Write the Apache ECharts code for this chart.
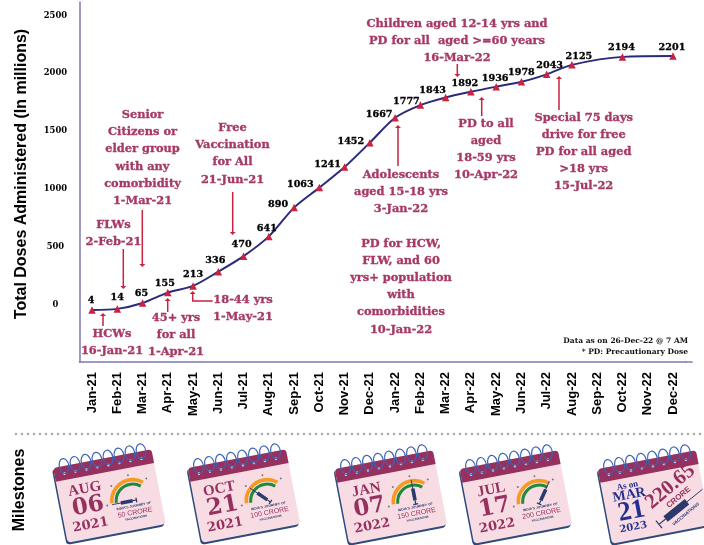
<!DOCTYPE html>
<html>
<head>
<meta charset="utf-8">
<style>html,body{margin:0;padding:0;background:#fff}#c{width:704px;height:545px}</style>
<script src="https://cdn.jsdelivr.net/npm/echarts@6/dist/echarts.min.js"></script>
</head>
<body>
<div id="c"></div>
<script>
const categories = ['Jan-21','Feb-21','Mar-21','Apr-21','May-21','Jun-21','Jul-21','Aug-21','Sep-21','Oct-21','Nov-21','Dec-21','Jan-22','Feb-22','Mar-22','Apr-22','May-22','Jun-22','Jul-22','Aug-22','Sep-22','Oct-22','Nov-22','Dec-22'];
const doses = [4,14,65,155,213,336,470,641,890,1063,1241,1452,1667,1777,1843,1892,1936,1978,2043,2125,2194,2201];
const labelledMonths = ['Jan-21','Feb-21','Mar-21','Apr-21','May-21','Jun-21','Jul-21','Aug-21','Sep-21','Oct-21','Nov-21','Dec-21','Jan-22','Feb-22','Mar-22','Apr-22','May-22','Jun-22','Jul-22','Aug-22','Oct-22','Dec-22'];
const yTicks = [0,500,1000,1500,2000,2500];
const yTitle = 'Total Doses Administered (In millions)';
const footnotes = 'Data as on 26-Dec-22 @ 7 AM\n* PD: Precautionary Dose';
const annotations = [
  ['HCWs\n16-Jan-21',112,325],
  ['FLWs\n2-Feb-21',113.5,216.5],
  ['Senior\nCitizens or\nelder group\nwith any\ncomorbidity\n1-Mar-21',142.5,106.5],
  ['Free\nVaccination\nfor All\n21-Jun-21',232.5,119.5],
  ['45+ yrs\nfor all\n1-Apr-21',176,309],
  ['18-44 yrs\n1-May-21',243,291],
  ['Children aged 12-14 yrs and\nPD for all  aged >=60 years\n16-Mar-22',457,15],
  ['Adolescents\naged 15-18 yrs\n3-Jan-22',401,166],
  ['PD to all\naged\n18-59 yrs\n10-Apr-22',486,115],
  ['Special 75 days\ndrive for free\nPD for all aged\n>18 yrs\n15-Jul-22',583.7,109],
  ['PD for HCW,\nFLW, and 60\nyrs+ population\nwith\ncomorbidities\n10-Jan-22',401,235]
];
const arrows = [
  [[103,326],[103,313]],
  [[123.3,249],[123.3,289]],
  [[142.3,210],[142.3,267]],
  [[232.7,192],[232.7,235]],
  [[167.7,312],[167.7,298]],
  [[212.7,301],[192.7,301],[192.7,291]],
  [[398,166],[398,125]],
  [[457.3,64],[457.3,77]],
  [[481.7,116],[481.7,97]],
  [[559,110],[559,76]]
];
const labelOffsets = [[-1,-10],[0,-11],[-1,-9],[-3,-9],[0,-11],[-3,-11],[-2,-12],[-2,-8],[-16,-3],[-19,-3],[-17,-3],[-19,-1],[-16,-3],[-14,-4],[-13,-7],[-6,-8],[-1,-8],[0,-9],[3,-9],[7,-8],[-1,-9],[-1,-9]];
const calendars = [
  {cx:109.5,cy:496,month:'AUG',day:'06',year:'2021',crore:'50 CRORE',needle:180},
  {cx:244,cy:496,month:'OCT',day:'21',year:'2021',crore:'100 CRORE',needle:135},
  {cx:391,cy:497,month:'JAN',day:'07',year:'2022',crore:'150 CRORE',needle:90},
  {cx:516,cy:497,month:'JUL',day:'17',year:'2022',crore:'200 CRORE',needle:55}
];

const RED='#c8233f', ANN='#a63a66', AXIS='#8078b4', MAROON='#96305e', PINK='#f8dce4', NAVY='#2d4a7a', RING='#3c62b4';
const SLAB='"DejaVu Serif"', SANS='"Liberation Sans"', SERIF='"Liberation Serif"';

function txt(text,x,y,font,fill,extra){
  return Object.assign({type:'text',x,y,silent:true,style:{text,font,fill,align:'center',verticalAlign:'middle'}},extra||{});
}
function syringe(x,y,needleDeg,len,w){
  return {type:'group',x,y,rotation:(needleDeg-180)*Math.PI/180,children:[
    {type:'line',shape:{x1:-len,y1:0,x2:-len*0.55,y2:0},style:{stroke:'#2b3a6b',lineWidth:0.9}},
    {type:'rect',shape:{x:-len*0.6,y:-w/2,width:len*0.55,height:w},style:{fill:'#2b3a6b'}},
    {type:'line',shape:{x1:-len*0.05,y1:0,x2:len*0.12,y2:0},style:{stroke:'#2b3a6b',lineWidth:1.2}},
    {type:'line',shape:{x1:len*0.12,y1:-w*0.7,x2:len*0.12,y2:w*0.7},style:{stroke:'#2b3a6b',lineWidth:1.2}}
  ]};
}
function calendarBase(){
  const ch=[
    {type:'rect',shape:{x:-51.5,y:-37,width:100,height:77,r:4},style:{fill:NAVY}},
    {type:'rect',shape:{x:-50,y:-38,width:100,height:76,r:4},style:{fill:PINK}},
    {type:'rect',shape:{x:-50,y:-38,width:100,height:14,r:[4,4,0,0]},style:{fill:MAROON}}
  ];
  for(let i=0;i<8;i++){
    const rx=-39+i*11.2;
    ch.push({type:'circle',shape:{cx:rx-1,cy:-30.5,r:1.3},style:{fill:'#e8eaf2'}});
    ch.push({type:'ellipse',shape:{cx:rx,cy:-38,rx:4.8,ry:7.5},style:{fill:'none',stroke:RING,lineWidth:1.2}});
  }
  return ch;
}
function calendar(c){
  const ch=calendarBase(), gx=22, gy=9;
  const arc=(r,col,w)=>({type:'arc',shape:{cx:gx,cy:gy,r,startAngle:-Math.PI*0.98,endAngle:-Math.PI*0.28,clockwise:true},style:{fill:'none',stroke:col,lineWidth:w}});
  ch.push(arc(21,'#f59a23',3.6),arc(16.6,'#1e8a3c',3));
  [180,135,90,48].forEach(a=>{const r=26,t=a*Math.PI/180;ch.push({type:'circle',shape:{cx:gx+r*Math.cos(t),cy:gy-r*Math.sin(t),r:1},style:{fill:'#777'}});});
  ch.push(syringe(gx+1,gy,c.needle,22,3.6));
  ch.push(txt(c.month,-23,-11.5,'bold 15px '+SERIF,MAROON));
  ch.push(txt(c.day,-23,6.5,'bold 23px '+SLAB,MAROON));
  ch.push(txt(c.year,-24,25,'bold 13px '+SLAB,MAROON));
  ch.push(txt("INDIA'S JOURNEY OF",22,14.5,'bold 3.4px '+SANS,'#2b3a6b'));
  ch.push({type:'text',x:22,y:21,silent:true,style:{text:c.crore,font:'7px '+SANS,fill:MAROON,align:'center',verticalAlign:'middle',letterSpacing:1.2}});
  ch.push({type:'text',x:22,y:26.5,silent:true,style:{text:'VACCINATIONS',font:'bold 3px '+SANS,fill:'#2b3a6b',align:'center',verticalAlign:'middle',letterSpacing:1}});
  return {type:'group',x:c.cx,y:c.cy,rotation:0.19,children:ch};
}
function lastCalendar(){
  const ch=calendarBase(), B='#24308f';
  ch.push(txt('As on',-24,-16,'bold 9px '+SERIF,B));
  ch.push(txt('MAR',-24,-6.5,'bold 14px '+SERIF,B));
  ch.push(txt('21',-25,10,'bold 27px '+SERIF,B));
  ch.push(txt('2023',-26,26,'bold 10px '+SLAB,B));
  ch.push(txt('220.65',18,-7,'bold 21px '+SERIF,MAROON,{rotation:0.51}));
  ch.push(txt('CRORE',24,5,'bold 8px '+SANS,MAROON,{rotation:0.51}));
  ch.push(syringe(5,25,28,50,7));
  ch.push(txt('VACCINATIONS',28,23,'bold 4.5px '+SANS,'#2b3a6b',{rotation:0.51}));
  return {type:'group',x:654,y:497,rotation:0.19,children:ch};
}
function arrowShapes(a){
  const n=a.length, p=a[n-1], q=a[n-2];
  const dx=Math.sign(p[0]-q[0]), dy=Math.sign(p[1]-q[1]);
  const end=[p[0]-dx*3,p[1]-dy*3];
  return [
    {type:'polyline',silent:true,shape:{points:a.slice(0,-1).concat([end])},style:{fill:'none',stroke:RED,lineWidth:1.5}},
    {type:'polygon',silent:true,shape:{points:[p,[end[0]+dy*3,end[1]+dx*3],[end[0]-dy*3,end[1]-dx*3]]},style:{fill:RED}}
  ];
}

const graphics=[];
annotations.forEach(a=>graphics.push({type:'text',x:a[1],y:a[2],silent:true,style:{text:a[0],font:'bold 11.4px '+SLAB,fill:ANN,stroke:ANN,lineWidth:0.35,align:'center',verticalAlign:'top',lineHeight:17.2}}));
arrows.forEach(a=>graphics.push(...arrowShapes(a)));
graphics.push({type:'line',silent:true,shape:{x1:685,y1:362,x2:692.7,y2:362},style:{stroke:AXIS,lineWidth:1.5}});
graphics.push({type:'text',x:688,y:335.5,silent:true,style:{text:footnotes,font:'bold 7.5px '+SLAB,fill:'#111',align:'right',verticalAlign:'top',lineHeight:11}});
graphics.push({type:'line',silent:true,shape:{x1:16,y1:434,x2:704,y2:434},style:{stroke:'#aaaaaa',lineWidth:2.6,lineDash:[0,6],lineCap:'round'}});
graphics.push({type:'text',x:20,y:490,rotation:Math.PI/2,silent:true,style:{text:'Milestones',font:'bold 16px '+SANS,fill:'#000',align:'center',verticalAlign:'middle'}});
calendars.forEach(c=>graphics.push(calendar(c)));
graphics.push(lastCalendar());

const seriesData = labelledMonths.map((m,i)=>({
  value:[m,doses[i]],
  label:{offset:labelOffsets[i]}
}));

const chart = echarts.init(document.getElementById('c'),null,{renderer:'canvas'});
chart.setOption({
  animation:false,
  backgroundColor:'#fff',
  grid:{left:79.4,right:18.4,top:2,height:360,outerBoundsMode:'none',containLabel:false},
  xAxis:{type:'category',data:categories,boundaryGap:true,
    axisLine:{onZero:false,lineStyle:{color:AXIS,width:1.5}},axisTick:{show:false},splitLine:{show:false},
    axisLabel:{rotate:90,interval:0,margin:10,fontFamily:SANS,fontWeight:'bold',fontSize:13,color:'#000'}},
  yAxis:{type:'value',min:-445.5,max:2668.7,
    name:yTitle,nameLocation:'middle',nameRotate:90,nameGap:50,
    nameTextStyle:{fontFamily:SANS,fontWeight:'bold',fontSize:16,color:'#000',padding:[0,0,0,16]},
    axisLine:{show:true,onZero:false,lineStyle:{color:AXIS,width:1.5}},axisTick:{show:false},splitLine:{show:false},
    axisLabel:{customValues:yTicks,formatter:v=>String(v),align:'center',margin:24,verticalAlign:'bottom',padding:[0,0,2,0],fontFamily:SLAB,fontWeight:'bold',fontSize:8.4,color:'#000'}},
  series:[{type:'line',data:seriesData,smooth:0.3,symbol:'triangle',symbolSize:7.5,
    lineStyle:{color:'#2a2a7a',width:2},itemStyle:{color:RED},
    label:{show:true,position:'inside',fontFamily:SLAB,fontWeight:'bold',fontSize:9.6,color:'#000',textBorderColor:'#000',textBorderWidth:0.3}}],
  graphic:graphics
});
</script>
</body>
</html>
